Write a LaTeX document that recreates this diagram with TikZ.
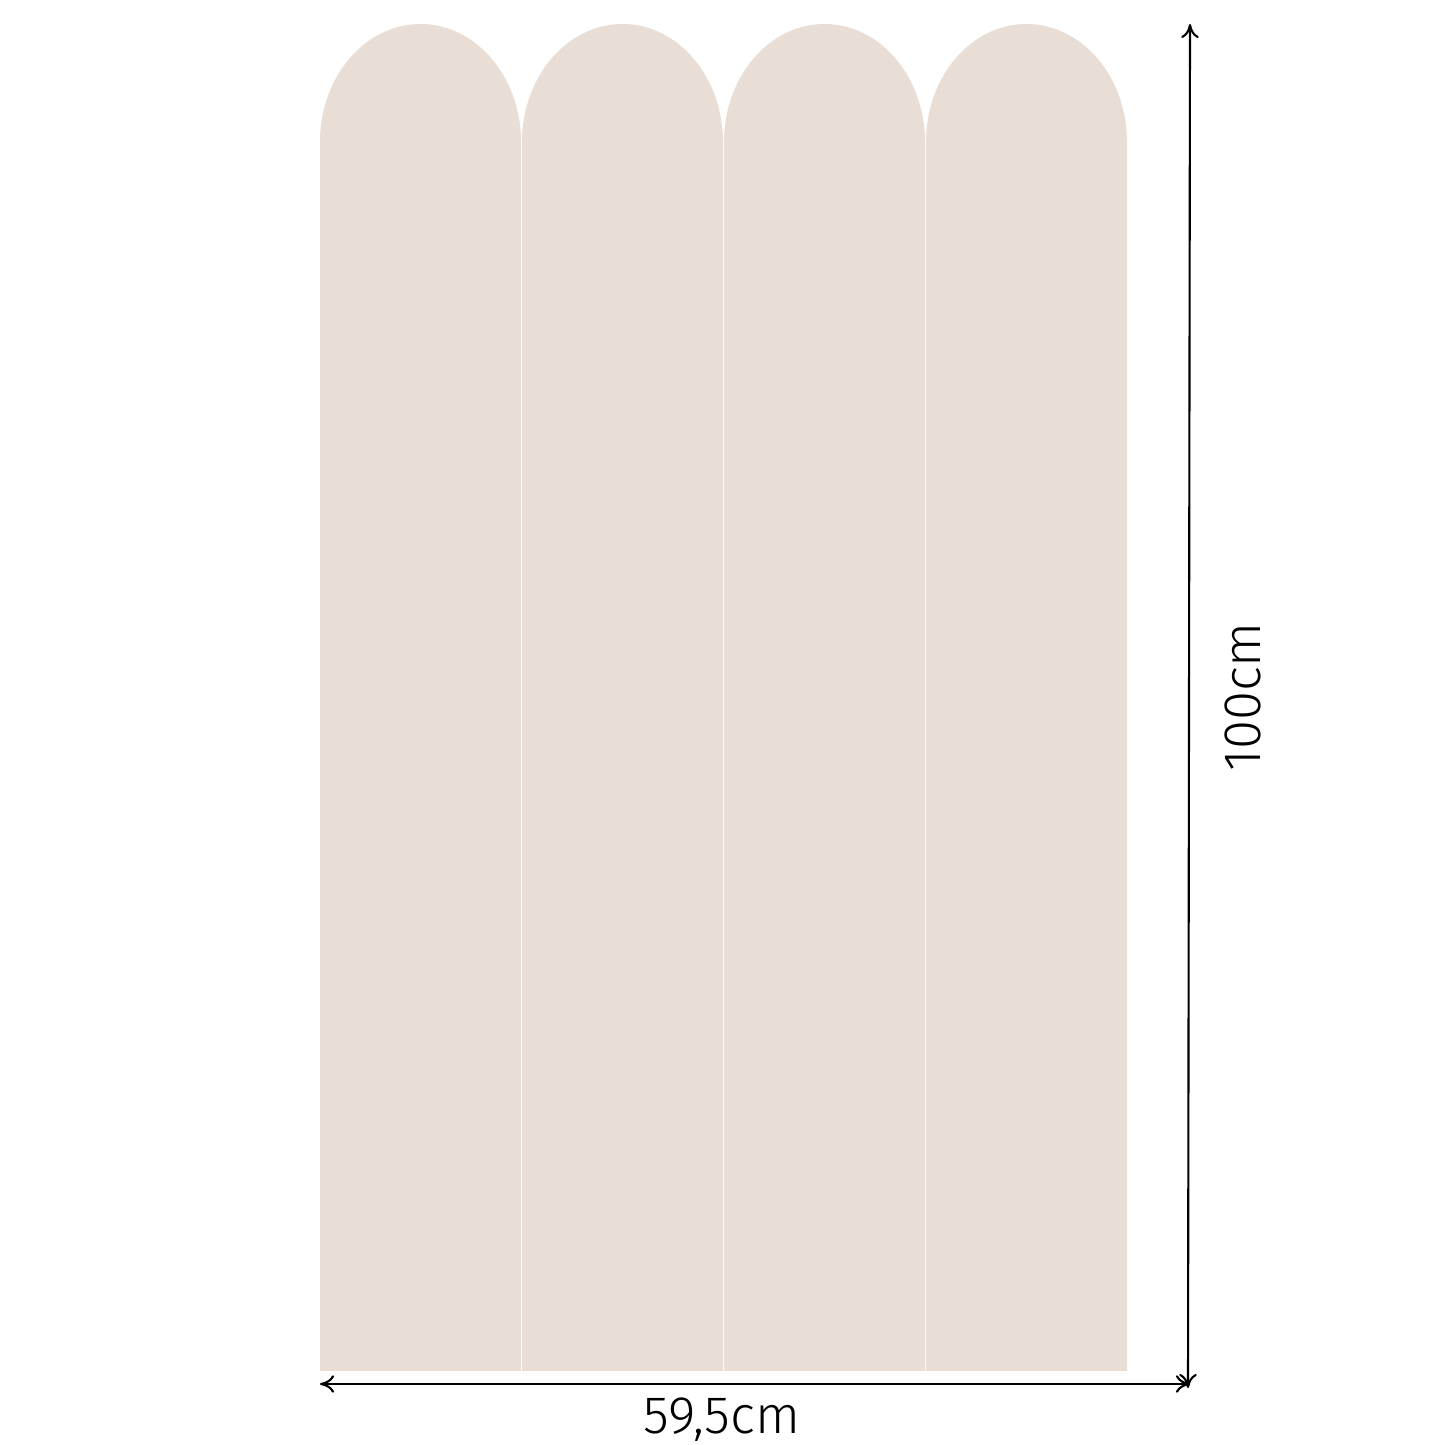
\documentclass[tikz,border=0pt]{standalone}
\usepackage{fontspec}
\setmainfont{Fira Sans}[UprightFont=* Light]
\usetikzlibrary{arrows.meta}

\definecolor{archbeige}{RGB}{233,222,213}

\begin{document}
\begin{tikzpicture}[>={To[length=4pt,width=5pt]}, x=0.01cm, y=0.01cm]

\useasboundingbox (0,0) rectangle (1445,1445);

% the four arched strips
	\foreach \x in {320, 522, 724, 926}
		\fill[archbeige] (\x,74) -- (\x,1303)
			arc[start angle=180, end angle=0, x radius=100.5, y radius=118]
			-- (\x+201,74) -- cycle;

% dimension lines
\coordinate (wl) at (320,61);
\coordinate (wr) at (1190,61);
\coordinate (ht) at (1190,1421);
\coordinate (hb) at (1188,57);

\draw[<->, line width=0.6pt] (wl) -- (wr);
\draw[<->, line width=0.6pt] (ht) -- (hb);

\node[font=\fontsize{15}{18}\selectfont] (width) at (722,25) {59,5cm};
\node[font=\fontsize{15}{18}\selectfont, rotate=90] (height) at (1243,748) {100cm};

\end{tikzpicture}
\end{document}
